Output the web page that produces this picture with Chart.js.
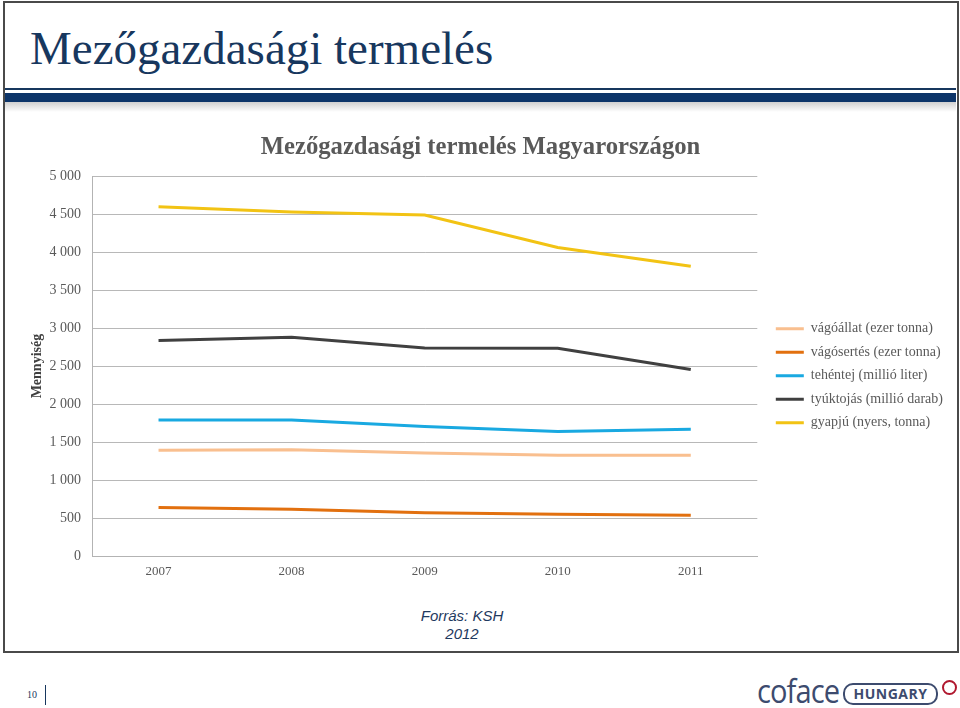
<!DOCTYPE html>
<html lang="hu">
<head>
<meta charset="utf-8">
<title>Mezőgazdasági termelés</title>
<script src="https://cdn.jsdelivr.net/npm/chart.js@4.4.1/dist/chart.umd.min.js"></script>
<style>
  html, body { margin: 0; padding: 0; background: #fff; }
  body { width: 960px; height: 708px; position: relative; overflow: hidden; }
  .slide {
    position: absolute; left: 3px; top: 1px; width: 952px; height: 648px;
    border: 2px solid #4a4a4a;
  }
  .slide-title {
    position: absolute; left: 30px; top: 25px; margin: 0;
    font-family: "Liberation Serif", "Times New Roman", serif;
    font-weight: normal; font-size: 47px; color: #17375e; line-height: 1;
  }
  .rule-thin { position: absolute; left: 5px; width: 951px; top: 88px; height: 2px; background: #17375e; }
  .rule-thick { position: absolute; left: 5px; width: 951px; top: 93px; height: 9px; background: #0d3569; }
  .rule-shadow {
    position: absolute; left: 5px; width: 951px; top: 102px; height: 10px;
    background: linear-gradient(#d0d0d0, rgba(255,255,255,0));
  }
  #chart { position: absolute; left: 5px; top: 120px; }
  .source {
    position: absolute; left: 362px; width: 200px; top: 607px; text-align: center;
    font-family: "Liberation Sans", Arial, sans-serif; font-style: italic;
    font-size: 15px; line-height: 18px; color: #1f3a5f;
  }
  .page-no {
    position: absolute; left: 27px; top: 689px;
    font-family: "Liberation Serif", serif; font-size: 10px; color: #17375e;
  }
  .page-bar { position: absolute; left: 45px; top: 685px; width: 1px; height: 20px; background: #17375e; }
  .logo {
    position: absolute; left: 757px; top: 676px;
    font-family: "Open Sans", "DejaVu Sans", sans-serif; color: #3d4b6e;
  }
  .logo .word {
    font-size: 33px; letter-spacing: -1px; line-height: 30px;
    display: inline-block; transform: scaleX(0.88); transform-origin: left;
  }
  .logo .pill {
    position: absolute; left: 86px; top: 7px; width: 91px; height: 18px;
    border: 2px solid #3d4b6e; border-radius: 10px;
    font-size: 14px; font-weight: bold; line-height: 18px; text-align: center;
    letter-spacing: 0.5px;
  }
  .logo .mark {
    position: absolute; left: 185px; top: 4px; width: 11px; height: 11px;
    border: 2px solid #b0182f; border-radius: 50%;
  }
</style>
</head>
<body>
<div class="slide"></div>
<h1 class="slide-title">Mezőgazdasági termelés</h1>
<div class="rule-thin"></div>
<div class="rule-thick"></div>
<div class="rule-shadow"></div>

<canvas id="chart" width="952" height="470"></canvas>

<div class="source">Forrás: KSH<br>2012</div>
<div class="page-no">10</div>
<div class="page-bar"></div>
<div class="logo">
  <span class="word">coface</span>
  <div class="pill">HUNGARY</div>
  <div class="mark"></div>
</div>

<script>
// Chart data
const years = ['2007', '2008', '2009', '2010', '2011'];

const vagoallat = [1391, 1400, 1356, 1325, 1325];   // ezer tonna
const vagosertes = [639, 617, 568, 551, 538];        // ezer tonna
const tehentej = [1789, 1789, 1706, 1640, 1667];     // millió liter
const tyuktojas = [2835, 2878, 2739, 2734, 2454];    // millió darab
const gyapju = [4597, 4528, 4488, 4060, 3815];       // nyers, tonna

const seriesNames = [
  'vágóállat (ezer tonna)',
  'vágósertés (ezer tonna)',
  'tehéntej (millió liter)',
  'tyúktojás (millió darab)',
  'gyapjú (nyers, tonna)'
];
const seriesColors = ['#f9bf8f', '#e2700f', '#19a9e1', '#404040', '#f2c314'];

const yMin = 0;
const yMax = 5000;
const yStep = 500;

const serif = '"Liberation Serif", "Times New Roman", serif';

function formatThousands(value) {
  return String(value).replace(/\B(?=(\d{3})+(?!\d))/g, ' ');
}

// Push the legend a little away from the plot, like in the original
const legendShift = {
  id: 'legendShift',
  afterLayout(chart) {
    const legend = chart.legend;
    if (!legend) return;
    legend.left += 9;
    legend.right += 9;
    legend.top += 22;
    legend.bottom += 22;
  }
};

const allSeries = [vagoallat, vagosertes, tehentej, tyuktojas, gyapju];

new Chart(document.getElementById('chart'), {
  type: 'line',
  data: {
    labels: years,
    datasets: allSeries.map((values, i) => ({
      label: seriesNames[i],
      data: values,
      borderColor: seriesColors[i],
      backgroundColor: seriesColors[i],
      borderWidth: 3,
      pointRadius: 0,
      tension: 0,
      fill: false
    }))
  },
  options: {
    responsive: false,
    animation: false,
    layout: { padding: { left: 12, right: 13, top: 0, bottom: 2.4 } },
    plugins: {
      title: {
        display: true,
        text: 'Mezőgazdasági termelés Magyarországon',
        color: '#595959',
        font: { family: serif, size: 24.7, weight: 'bold' },
        padding: { top: 12.5, bottom: 14 }
      },
      legend: {
        position: 'right',
        labels: {
          usePointStyle: true,
          pointStyle: 'line',
          pointStyleWidth: 28,
          color: '#595959',
          font: { family: serif, size: 14 },
          padding: 9.5
        }
      },
      tooltip: { enabled: false }
    },
    scales: {
      x: {
        offset: true,
        grid: { display: false, drawTicks: false },
        border: { color: '#b3b3b3', width: 1 },
        ticks: { color: '#595959', font: { family: serif, size: 13 }, padding: 8 }
      },
      y: {
        min: yMin,
        max: yMax,
        grid: { color: '#b8b8b8', drawTicks: false },
        border: { color: '#b3b3b3', width: 1 },
        ticks: {
          stepSize: yStep,
          color: '#595959',
          font: { family: serif, size: 14 },
          padding: 11,
          callback: value => formatThousands(value)
        },
        title: {
          display: true,
          text: 'Mennyiség',
          color: '#404040',
          font: { family: serif, size: 14, weight: 'bold' },
          padding: { top: 12.3, bottom: -7.6 }
        }
      }
    }
  },
  plugins: [legendShift]
});
</script>
</body>
</html>
